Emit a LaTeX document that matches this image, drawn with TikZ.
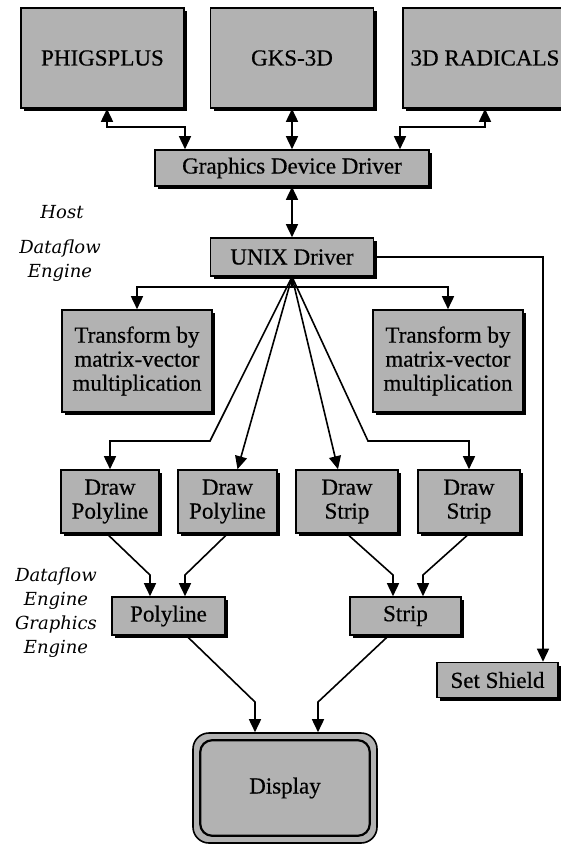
\documentclass[tikz,border=0pt]{standalone}
\usepackage{fontspec}
\setmainfont{Liberation Serif}
\newfontfamily\boxfont[FakeBold=0.5]{Liberation Serif}
\newfontfamily\labfont{DejaVu Serif}
\usetikzlibrary{shadows,arrows.meta,calc}
\begin{document}
\begin{tikzpicture}[x=1pt,y=-1pt,
 box/.style={draw=black, line width=1.6pt, fill=black!30, font=\boxfont\fontsize{23}{24}\selectfont, align=center, inner sep=0pt,
   drop shadow={shadow xshift=3pt, shadow yshift=-3pt, fill=black, opacity=1}},
 lab/.style={font=\labfont\itshape\fontsize{18}{24}\selectfont, align=center},
 arr/.style={line width=1.6pt, -{Triangle[length=13pt,width=12pt]}},
 dar/.style={line width=1.6pt, {Triangle[length=13pt,width=12pt]}-{Triangle[length=13pt,width=12pt]}},
]
\useasboundingbox (0,0) rectangle (560,845);

% top row
\node[box, minimum width=163, minimum height=100] (phigs) at (102.5,58) {PHIGSPLUS};
\node[box, minimum width=163, minimum height=100] (gks) at (292,58) {GKS-3D};
\node[box, minimum width=164, minimum height=100] (rad) at (485,58) {3D RADICALS};

\node[box, minimum width=274, minimum height=36] (gdd) at (292,168) {Graphics Device Driver};
\node[box, minimum width=163, minimum height=38] (unix) at (292,257) {UNIX Driver};

\coordinate (b1) at (185,127);
\coordinate (b2) at (400,127);
\draw[dar] (phigs.south -| 107,0) |- (b1) -- (b1 |- gdd.north);
\draw[dar] (gks.south) -- (gdd.north);
\draw[dar] (rad.south) |- (b2) -- (b2 |- gdd.north);
\draw[dar] (gdd.south) -- (unix.north);

% labels
\node[lab] (host) at (62,212) {Host};
\node[lab] (df1) at (60,261) {Dataflow\\Engine};
\node[lab] (df2) at (56,613) {Dataflow\\Engine\\Graphics\\Engine};

% transform boxes
\node[box, minimum width=150, minimum height=102] (tl) at (137,361) {Transform by\\matrix-vector\\multiplication};
\node[box, minimum width=150, minimum height=102] (tr) at (448,361) {Transform by\\matrix-vector\\multiplication};
\coordinate (hub) at (292,287);
\draw[arr] (unix.south) -- (hub) -| (tl.north);
\draw[arr] (hub) -| (tr.north);

% draw boxes
\node[box, minimum width=98, minimum height=63] (dp1) at (110,501.5) {Draw\\Polyline};
\node[box, minimum width=99, minimum height=63] (dp2) at (227.5,501.5) {Draw\\Polyline};
\node[box, minimum width=102, minimum height=63] (ds1) at (347,501.5) {Draw\\Strip};
\node[box, minimum width=102, minimum height=63] (ds2) at (469,501.5) {Draw\\Strip};

\coordinate (f1) at (210,441);
\coordinate (f4) at (368,441);
\draw[arr] (unix.south) -- (f1) -| (dp1.north);
\draw[arr] (unix.south) -- ($(dp2.north)+(10,0)$);
\draw[arr] (unix.south) -- ($(ds1.north)+(-9,0)$);
\draw[arr] (unix.south) -- (f4) -| (ds2.north);

% polyline / strip
\node[box, minimum width=113, minimum height=38] (poly) at (168.5,616) {Polyline};
\node[box, minimum width=111, minimum height=38] (strip) at (405.5,616) {Strip};

\coordinate (p1) at (150,575);
\coordinate (p2) at (185,575);
\coordinate (s1) at (393,575);
\coordinate (s2) at (423,575);
\draw[arr] ($(dp1.south)+(-3,0)$) -- (p1) -- (p1 |- poly.north);
\draw[arr] (dp2.south) -- (p2) -- (p2 |- poly.north);
\draw[arr] (ds1.south) -- (s1) -- (s1 |- strip.north);
\draw[arr] (ds2.south) -- (s2) -- (s2 |- strip.north);

% set shield
\node[box, minimum width=121, minimum height=35] (shield) at (497.5,680) {Set Shield};
\coordinate (r1) at (543,257);
\draw[arr] (unix.east) -- (r1) -- (r1 |- shield.north);

% display
\node[draw=black, line width=1.6pt, fill=black!30, rounded corners=16pt, minimum width=184, minimum height=110,
  font=\boxfont\fontsize{23}{24}\selectfont] (disp) at (285,788) {Display};
\draw[line width=2.2pt, rounded corners=12pt] ($(disp.north west)+(8,8)$) rectangle ($(disp.south east)+(-8,-8)$);

\coordinate (d1) at (255,702);
\coordinate (d2) at (318,702);
\draw[arr] ($(poly.south)+(18,0)$) -- (d1) -- (d1 |- disp.north);
\draw[arr] ($(strip.south)+(-17,0)$) -- (d2) -- (d2 |- disp.north);
\end{tikzpicture}
\end{document}
